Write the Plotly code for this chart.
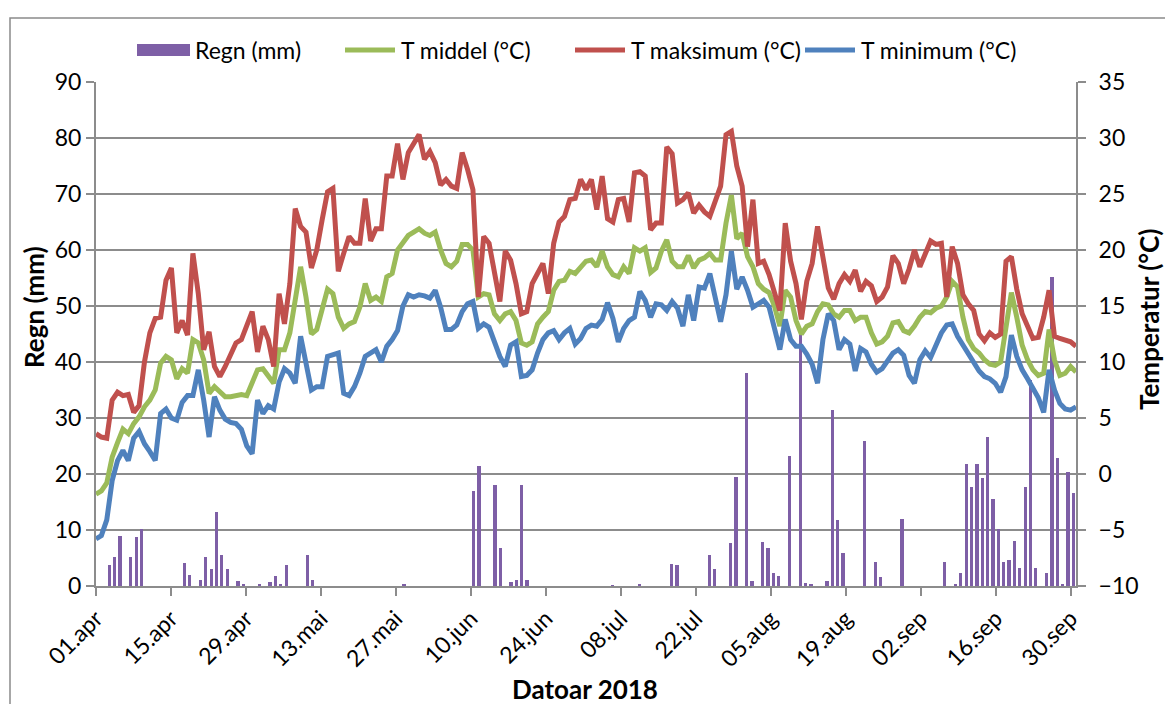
import pandas as pd
import plotly.graph_objects as go

# ---------------- data ----------------
start_date = "2018-04-01"
end_date = "2018-09-30"
dates = pd.date_range(start_date, end_date, freq="D")

rain_mm = [
    0, 0, 3.7, 5.2, 8.9, 0, 5.2, 8.7, 10.2, 0,
    0, 0, 0, 0, 0, 0, 4.1, 1.9, 0, 1.1,
    5.2, 3.0, 13.2, 5.6, 3.0, 0, 0.9, 0.2, 0, 0,
    0.2, 0, 0.7, 1.7, 0.2, 3.7, 0, 0, 0, 5.5,
    1.1, 0, 0, 0, 0, 0, 0, 0, 0, 0,
    0, 0, 0, 0, 0, 0, 0, 0.2, 0, 0,
    0, 0, 0, 0, 0, 0, 0, 0, 0, 0,
    17.0, 21.4, 0, 0, 18.1, 6.7, 0, 0.8, 1.0, 18.1,
    1.0, 0, 0, 0, 0, 0, 0, 0, 0, 0,
    0, 0, 0, 0, 0, 0, 0.1, 0, 0, 0,
    0, 0.4, 0, 0, 0, 0, 0, 4.0, 3.7, 0,
    0, 0, 0, 0, 5.6, 3.1, 0, 0, 7.7, 19.4,
    0, 38.1, 0.9, 0, 7.8, 6.8, 2.4, 1.7, 0, 23.3,
    0, 45.0, 0.6, 0.2, 0, 0, 0.9, 31.4, 11.7, 5.9,
    0, 0, 0, 25.9, 0, 4.3, 1.6, 0, 0, 0,
    11.9, 0, 0, 0, 0, 0, 0, 0, 4.3, 0,
    0.4, 2.4, 21.7, 17.7, 21.7, 19.2, 26.6, 15.5, 10.2, 4.3,
    4.6, 8.0, 3.2, 17.7, 36.7, 3.2, 0, 2.4, 55.2, 22.9,
    0.4, 20.4, 16.6,
]

t_max = [
    3.6, 3.3, 3.2, 6.6, 7.3, 7.0, 7.1, 5.5, 6.1, 10.0,
    12.6, 13.9, 14.0, 17.3, 18.4, 12.6, 13.7, 12.4, 19.7, 16.1,
    11.1, 12.7, 9.6, 8.7, 9.6, 10.8, 11.7, 12.0, 13.2, 14.5,
    10.9, 13.2, 12.0, 9.6, 16.1, 13.4, 17.0, 23.7, 22.1, 21.6,
    18.4, 20.0, 22.7, 25.2, 25.5, 18.1, 19.7, 21.2, 20.6, 20.6,
    24.6, 20.8, 21.9, 21.9, 26.6, 26.6, 29.5, 26.3, 28.7, 29.6,
    30.3, 28.1, 28.8, 27.8, 25.8, 26.3, 25.7, 25.5, 28.7, 27.2,
    25.4, 15.8, 21.2, 20.6, 18.2, 15.4, 19.9, 19.1, 17.0, 14.3,
    14.5, 17.0, 17.9, 18.8, 16.1, 20.6, 22.5, 23.0, 24.5, 24.6,
    26.3, 25.4, 26.3, 23.6, 26.6, 22.8, 22.5, 24.5, 24.6, 22.5,
    26.9, 27.0, 26.6, 21.8, 22.4, 22.4, 29.2, 28.6, 24.2, 24.5,
    25.1, 23.3, 24.0, 23.4, 23.0, 24.5, 25.7, 30.3, 30.6, 27.5,
    25.7, 20.3, 24.5, 18.8, 19.0, 17.8, 16.3, 14.6, 22.4, 19.0,
    17.0, 13.8, 17.2, 18.8, 22.1, 19.0, 16.6, 15.6, 17.0, 17.8,
    17.2, 18.2, 16.3, 17.2, 16.8, 15.4, 15.8, 16.7, 19.5, 18.8,
    17.0, 18.3, 20.0, 18.5, 19.7, 20.8, 20.5, 20.6, 15.8, 20.3,
    18.8, 16.0, 15.2, 14.6, 12.5, 11.9, 12.6, 12.2, 12.5, 19.0,
    19.4, 16.5, 14.3, 13.2, 12.1, 12.2, 14.0, 16.4, 12.3, 12.1,
    12.0, 11.8, 11.4,
]

t_mid = [
    -1.8, -1.5, -0.8, 1.5, 2.8, 4.0, 3.6, 4.5, 5.1, 6.0,
    6.6, 7.5, 9.9, 10.5, 10.2, 8.5, 9.4, 9.0, 12.0, 11.7,
    10.2, 7.2, 7.8, 7.3, 6.9, 6.9, 7.0, 7.1, 7.0, 8.1,
    9.3, 9.4, 8.8, 8.1, 11.1, 11.1, 12.6, 15.4, 18.5, 15.8,
    12.5, 12.9, 14.9, 16.5, 16.1, 14.0, 13.0, 13.4, 13.6, 14.9,
    17.0, 15.5, 15.8, 15.4, 17.6, 17.9, 20.0, 20.6, 21.3, 21.6,
    21.9, 21.5, 21.3, 21.6, 20.0, 18.8, 18.5, 19.0, 20.5, 20.5,
    20.0, 15.8, 16.1, 16.0, 14.3, 13.7, 14.3, 14.5, 13.7, 11.7,
    11.5, 11.8, 13.4, 14.0, 14.5, 16.4, 17.2, 17.3, 18.1, 17.9,
    18.5, 19.0, 19.1, 18.5, 19.9, 18.5, 17.8, 17.6, 18.5, 17.9,
    20.2, 19.9, 20.2, 18.0, 18.4, 19.9, 20.9, 19.0, 18.5, 18.5,
    19.5, 18.4, 19.1, 19.3, 19.7, 19.1, 19.1, 22.4, 24.9, 21.0,
    21.5, 19.4, 18.5, 17.0, 16.5, 16.2, 15.0, 13.2, 16.4, 15.8,
    13.7, 12.5, 13.2, 13.4, 14.5, 15.2, 15.1, 14.3, 14.0, 14.6,
    14.6, 13.7, 14.0, 14.0, 12.6, 11.6, 11.8, 12.3, 13.5, 13.6,
    12.8, 12.6, 13.2, 14.0, 14.5, 14.4, 14.8, 15.0, 15.8, 17.2,
    16.7, 14.0, 12.0, 11.2, 10.8, 10.2, 9.8, 9.7, 10.0, 13.0,
    16.2, 14.0, 11.5, 10.2, 9.3, 8.8, 9.0, 12.9, 10.2, 8.8,
    9.0, 9.6, 9.1,
]

t_min = [
    -5.8, -5.5, -4.1, -0.6, 1.2, 2.1, 1.2, 3.2, 3.8, 2.7,
    2.0, 1.2, 5.4, 5.8, 5.0, 4.8, 6.4, 7.0, 7.0, 9.3,
    6.6, 3.3, 6.9, 5.7, 4.9, 4.6, 4.5, 4.0, 2.5, 1.8,
    6.6, 5.4, 6.1, 5.8, 8.2, 9.4, 9.0, 8.1, 12.3, 9.9,
    7.5, 7.8, 7.8, 10.5, 10.6, 10.8, 7.2, 7.0, 7.8, 9.0,
    10.5, 10.8, 11.1, 10.0, 11.4, 12.0, 12.8, 15.0, 16.0, 15.8,
    16.0, 15.9, 15.7, 16.4, 14.9, 12.9, 12.9, 13.3, 14.5, 15.2,
    15.4, 13.0, 13.4, 13.1, 11.7, 10.5, 9.6, 11.5, 11.8, 8.7,
    8.8, 9.3, 10.8, 12.0, 12.6, 12.8, 12.0, 12.6, 13.0, 11.6,
    12.1, 13.0, 13.3, 13.2, 13.8, 15.3, 13.9, 11.8, 13.0, 13.7,
    14.0, 16.3, 15.5, 14.0, 15.2, 15.1, 14.6, 15.4, 14.8, 13.2,
    16.0, 13.7, 16.7, 16.6, 17.9, 15.8, 13.6, 16.0, 19.9, 16.5,
    17.6, 16.4, 14.9, 15.2, 15.5, 14.9, 13.2, 11.1, 13.8, 12.0,
    11.4, 11.4, 10.7, 9.8, 8.1, 12.0, 14.3, 13.7, 11.1, 12.0,
    11.6, 9.2, 11.2, 10.9, 9.8, 9.1, 9.4, 10.1, 10.8, 11.1,
    10.6, 8.8, 8.1, 10.2, 11.0, 10.4, 11.5, 12.6, 13.3, 13.4,
    12.3, 11.5, 10.6, 9.9, 9.2, 8.7, 8.5, 8.1, 7.3, 8.7,
    12.4, 10.5, 9.3, 8.5, 7.6, 6.8, 5.5, 9.3, 7.5, 6.3,
    5.8, 5.7, 6.0,
]

tick_dates = pd.date_range(start_date, end_date, freq="14D")
tick_labels = ["01.apr", "15.apr", "29.apr", "13.mai", "27.mai", "10.jun", "24.jun",
               "08.jul", "22.jul", "05.aug", "19.aug", "02.sep", "16.sep", "30.sep"]

series_names = ["Regn (mm)", "T middel (°C)", "T maksimum (°C)", "T minimum (°C)"]
left_title = "Regn (mm)"
right_title = "Temperatur (°C)"
x_title = "Datoar 2018"

# ---------------- style ----------------
C_RAIN = "#7E5FA6"
C_MID = "#9BBB59"
C_MAX = "#C0504D"
C_MIN = "#4F81BD"
GRID = "#8C8C8C"
FONT = "Lato, 'Open Sans', sans-serif"
W, H = 1165, 704
ML, MR, MT, MB = 96, 89, 82, 118
PW, PH = W - ML - MR, H - MT - MB
DAY_MS = 86400000


def px(xp):
    return (xp - ML) / PW


def py(yp):
    return (H - MB - yp) / PH


fig = go.Figure()
fig.add_trace(go.Bar(
    x=dates, y=rain_mm, name=series_names[0], marker=dict(color=C_RAIN, line=dict(width=0)),
    width=0.6 * DAY_MS, xperiod=DAY_MS, xperiodalignment="middle",
    xaxis="x", yaxis="y", showlegend=False,
))
for vals, name, col in [(t_mid, series_names[1], C_MID),
                        (t_max, series_names[2], C_MAX),
                        (t_min, series_names[3], C_MIN)]:
    fig.add_trace(go.Scatter(
        x=dates, y=vals, name=name, mode="lines",
        line=dict(color=col, width=5), xaxis="x2", yaxis="y2", showlegend=False,
    ))

ytick_font = dict(family=FONT, size=23, color="#000000")
xtick_font = dict(family=FONT, size=23, color="#000000")
fig.update_layout(
    width=W, height=H,
    margin=dict(l=ML, r=MR, t=MT, b=MB, pad=0),
    paper_bgcolor="white", plot_bgcolor="white",
    font=dict(family=FONT, color="#000000"),
    bargap=0,
    xaxis=dict(
        type="date", range=[start_date, "2018-10-01"],
        tickmode="array", tickvals=tick_dates, ticktext=tick_labels,
        tickangle=-45, ticks="outside", ticklen=8, tickwidth=2, tickcolor=GRID,
        showline=True, linecolor=GRID, linewidth=2, showgrid=False, zeroline=False,
        tickfont=xtick_font,
    ),
    xaxis2=dict(
        type="date", range=[start_date, end_date], overlaying="x", visible=False,
    ),
    yaxis=dict(
        range=[0, 90], dtick=10, tick0=0, ticks="outside", ticklen=8, tickwidth=2,
        tickcolor=GRID, showline=True, linecolor=GRID, linewidth=2,
        showgrid=True, gridcolor=GRID, gridwidth=2, zeroline=False,
        tickfont=ytick_font,
    ),
    yaxis2=dict(
        range=[-10, 35], dtick=5, tick0=-10, overlaying="y", side="right",
        ticks="outside", ticklen=8, tickwidth=2, tickcolor=GRID,
        showline=True, linecolor=GRID, linewidth=2, showgrid=False, zeroline=False,
        tickfont=ytick_font, ticklabelstandoff=8,
    ),
)

shapes = []
annotations = []
# outer chart border
shapes.append(dict(type="rect", xref="paper", yref="paper",
                   x0=px(10), x1=px(1180), y0=py(18), y1=py(720),
                   line=dict(color="#8A8A8A", width=1.5), fillcolor="rgba(0,0,0,0)", layer="below"))

# legend (drawn manually to match the reference spacing)
leg_y = 50
leg_items = [
    ("rect", 137, 190, 193, series_names[0], C_RAIN),
    ("line", 345, 395, 399, series_names[1], C_MID),
    ("line", 575, 625, 629, series_names[2], C_MAX),
    ("line", 805, 855, 859, series_names[3], C_MIN),
]
for kind, x0, x1, xt, name, col in leg_items:
    if kind == "rect":
        shapes.append(dict(type="rect", xref="paper", yref="paper",
                           x0=px(x0), x1=px(x1), y0=py(leg_y + 6), y1=py(leg_y - 6),
                           fillcolor=col, line=dict(width=0)))
    else:
        shapes.append(dict(type="line", xref="paper", yref="paper",
                           x0=px(x0), x1=px(x1), y0=py(leg_y), y1=py(leg_y),
                           line=dict(color=col, width=5)))
    annotations.append(dict(text=name, xref="paper", yref="paper", x=px(xt), y=py(leg_y),
                            xanchor="left", yanchor="middle", showarrow=False,
                            font=dict(family=FONT, size=23, color="#000000")))

title_font = dict(family=FONT, size=26, color="#000000", weight="bold")
annotations.append(dict(text=f"<b>{left_title}</b>", xref="paper", yref="paper",
                        x=px(34), y=py(307), textangle=-90, showarrow=False,
                        xanchor="center", yanchor="middle", font=title_font))
annotations.append(dict(text=f"<b>{right_title}</b>", xref="paper", yref="paper",
                        x=px(1149), y=py(320), textangle=-90, showarrow=False,
                        xanchor="center", yanchor="middle", font=title_font))
annotations.append(dict(text=f"<b>{x_title}</b>", xref="paper", yref="paper",
                        x=px(585), y=py(689), showarrow=False,
                        xanchor="center", yanchor="middle", font=title_font))

fig.update_layout(shapes=shapes, annotations=annotations)
fig.write_html("out.html")
